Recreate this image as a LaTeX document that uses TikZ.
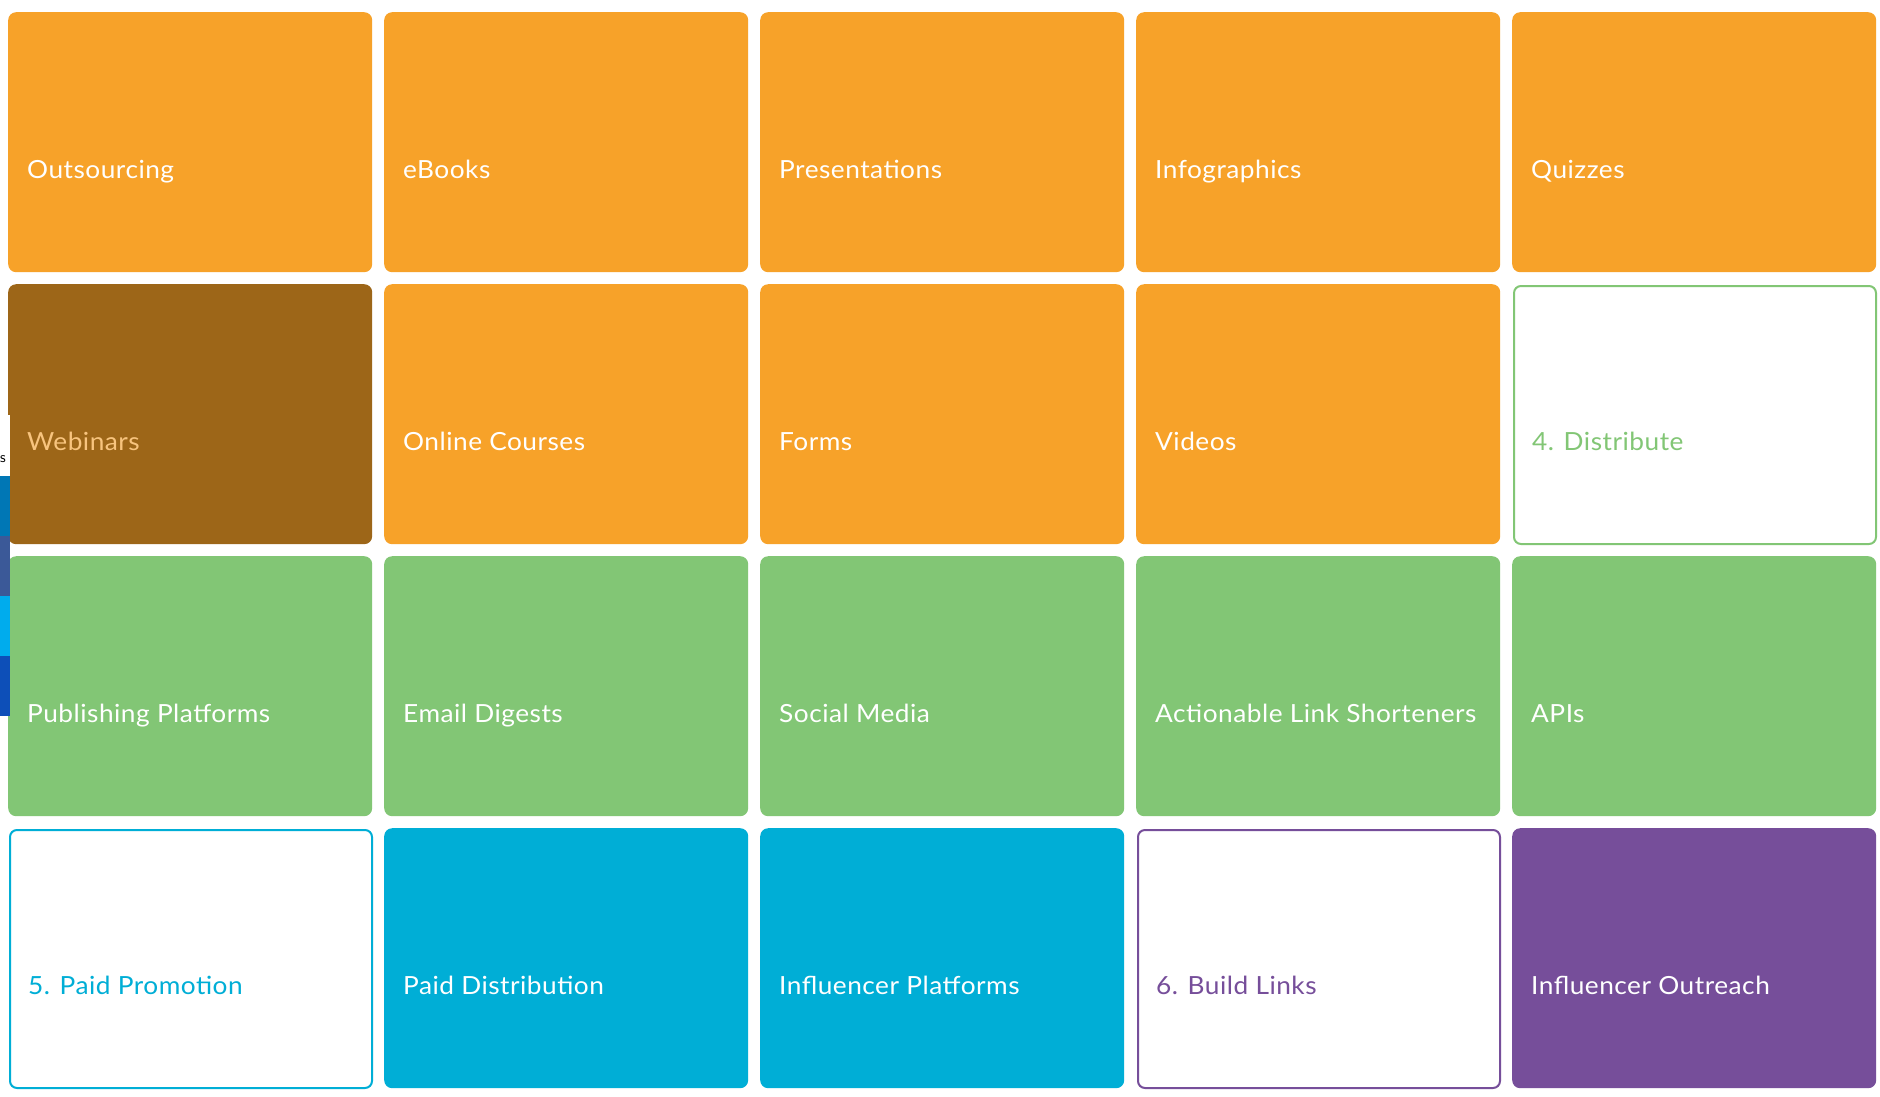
\documentclass[tikz,border=0pt]{standalone}
\usepackage{fontspec}
\setmainfont{Lato}[FakeStretch=1.05, LetterSpace=2]
\usetikzlibrary{calc}
\definecolor{orng}{HTML}{F7A229}
\definecolor{brwn}{HTML}{9D6618}
\definecolor{grn}{HTML}{82C675}
\definecolor{blu}{HTML}{00AED6}
\definecolor{purp}{HTML}{764E9A}
\definecolor{webtxt}{HTML}{F8C47E}
\definecolor{barA}{HTML}{0077B5}
\definecolor{barB}{HTML}{3B5998}
\definecolor{barC}{HTML}{00ACED}
\definecolor{barD}{HTML}{0D4FB8}
\tikzset{
  tilebox/.style={rectangle, rounded corners=8pt, minimum width=364pt, minimum height=260pt, anchor=north west, inner sep=0pt, draw=none},
  filledtile/.style={tilebox, fill=#1},
  outlinetile/.style={rectangle, rounded corners=7pt, minimum width=362pt, minimum height=258pt, anchor=north west, inner sep=0pt, draw=#1, line width=2pt, fill=white},
  lbl/.style={anchor=base west, inner sep=0pt, font=\fontsize{25}{30}\selectfont, text=#1},
}
\newcommand{\filltile}[6]{%
  \node[filledtile=#4] (#1) at (#2,#3) {};
  \node[lbl=#5] (#1txt) at ($(#1.north west)+(19,166)$) {#6};}
\newcommand{\linetile}[5]{%
  \node[outlinetile=#4] (#1) at (#2+1,#3+1) {};
  \node[lbl=#4] (#1txt) at ($(#1.north west)+(19,165)$) {#5};}
\begin{document}
\begin{tikzpicture}[x=1pt,y=-1pt]
\useasboundingbox[fill=white] (0,0) rectangle (1880,1096);
% row 1
\filltile{a1}{8}{12}{orng}{white}{Outsourcing}
\filltile{a2}{384}{12}{orng}{white}{eBooks}
\filltile{a3}{760}{12}{orng}{white}{Presentations}
\filltile{a4}{1136}{12}{orng}{white}{Infographics}
\filltile{a5}{1512}{12}{orng}{white}{Quizzes}
% row 2
\filltile{b1}{8}{284}{brwn}{webtxt}{Webinars}
\filltile{b2}{384}{284}{orng}{white}{Online Courses}
\filltile{b3}{760}{284}{orng}{white}{Forms}
\filltile{b4}{1136}{284}{orng}{white}{Videos}
\linetile{b5}{1512}{284}{grn}{4. Distribute}
% row 3
\filltile{c1}{8}{556}{grn}{white}{Publishing Platforms}
\filltile{c2}{384}{556}{grn}{white}{Email Digests}
\filltile{c3}{760}{556}{grn}{white}{Social Media}
\filltile{c4}{1136}{556}{grn}{white}{Actionable Link Shorteners}
\filltile{c5}{1512}{556}{grn}{white}{APIs}
% row 4
\linetile{d1}{8}{828}{blu}{5. Paid Promotion}
\filltile{d2}{384}{828}{blu}{white}{Paid Distribution}
\filltile{d3}{760}{828}{blu}{white}{Influencer Platforms}
\linetile{d4}{1136}{828}{purp}{6. Build Links}
\filltile{d5}{1512}{828}{purp}{white}{Influencer Outreach}
% left share strip
\fill[white] (0,415) rectangle (10,476);
\begin{scope}
\clip (0,415) rectangle (6,476);
\node[anchor=base east, inner sep=0pt, font=\sffamily\fontsize{15}{18}\selectfont] (shs) at (6,462) {s};
\end{scope}
\fill[barA] (0,476) rectangle (10,536);
\fill[barB] (0,536) rectangle (10,596);
\fill[barC] (0,596) rectangle (10,656);
\fill[barD] (0,656) rectangle (10,716);
\end{tikzpicture}
\end{document}
